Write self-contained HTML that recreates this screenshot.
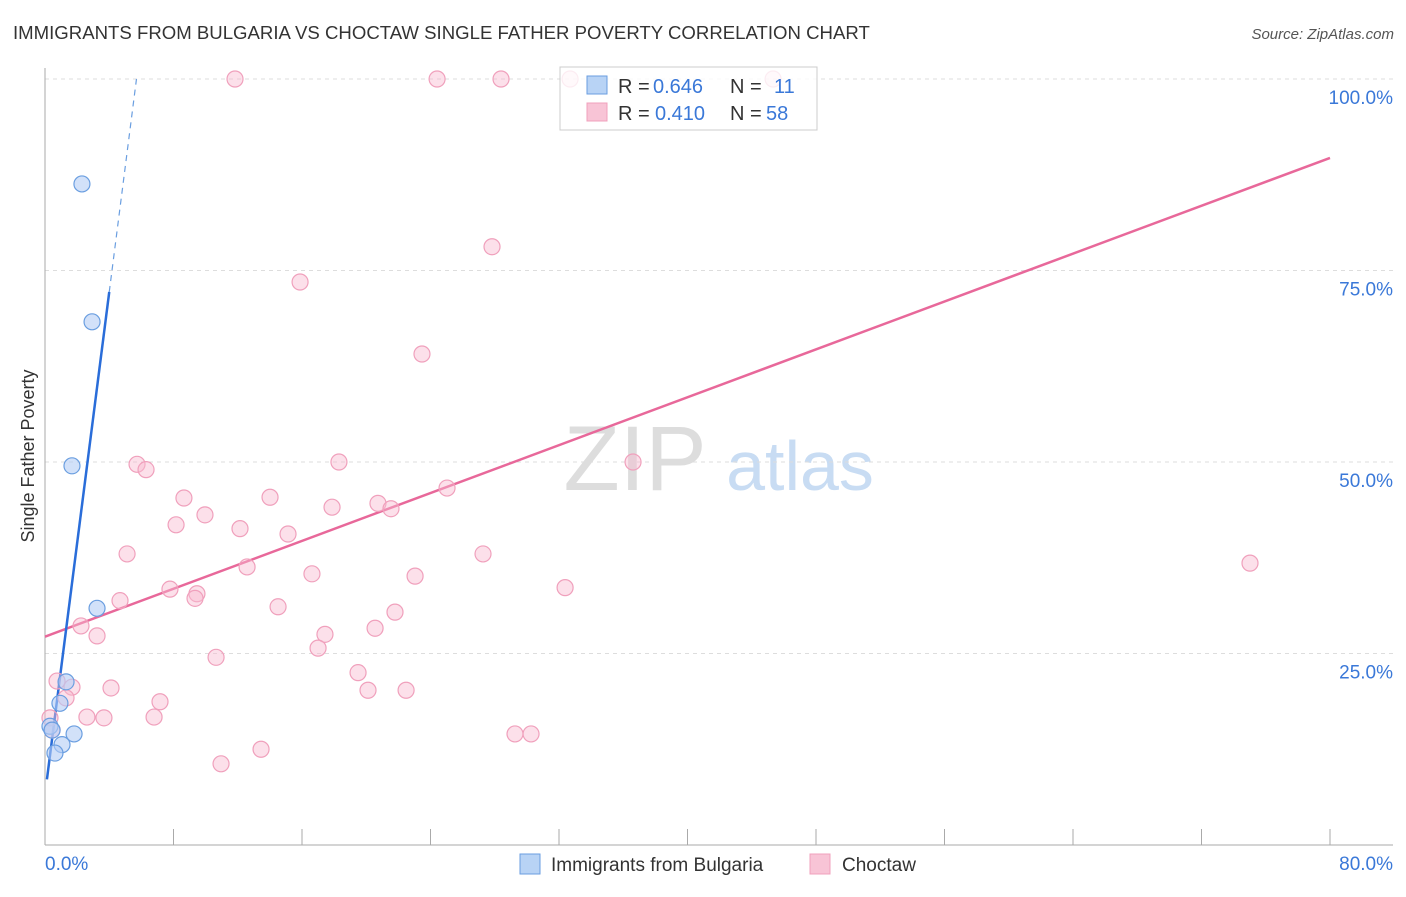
<!DOCTYPE html>
<html><head><meta charset="utf-8"><style>
body{margin:0;background:#fff;font-family:"Liberation Sans",sans-serif;}
svg text{font-family:"Liberation Sans",sans-serif;}
</style></head><body>
<svg id="chart" width="1406" height="892" xmlns="http://www.w3.org/2000/svg">
<text x="13" y="39" font-size="18.6" fill="#333">IMMIGRANTS FROM BULGARIA VS CHOCTAW SINGLE FATHER POVERTY CORRELATION CHART</text>
<text x="1394" y="39" font-size="15" fill="#555" text-anchor="end" font-style="italic">Source: ZipAtlas.com</text>
<text transform="translate(34,456) rotate(-90)" font-size="18" fill="#333" text-anchor="middle">Single Father Poverty</text>
<g>
<text x="635" y="490" font-size="92" fill="#ddd" text-anchor="middle" font-family="Liberation Serif,serif">ZIP</text>
<text x="800" y="490" font-size="70" fill="#c8dcf3" text-anchor="middle">atlas</text></g>
<g id="grid"></g><g id="axes"></g><g id="lines"></g><g id="points"></g>
<g>
<rect x="560" y="67" width="257" height="63" fill="#fff" fill-opacity="0.8" stroke="#ccc"/>
<rect x="587" y="76" width="20" height="18" fill="#b8d3f5" stroke="#6a9ee0"/>
<text x="618" y="93" font-size="20" fill="#333">R =</text>
<text x="653" y="93" font-size="20" fill="#3a78d8">0.646</text>
<text x="730" y="93" font-size="20" fill="#333">N =</text>
<text x="774" y="93" font-size="20" fill="#3a78d8">11</text>
<rect x="587" y="103" width="20" height="18" fill="#f8c4d6" stroke="#f0a0bc"/>
<text x="618" y="120" font-size="20" fill="#333">R =</text>
<text x="655" y="120" font-size="20" fill="#3a78d8">0.410</text>
<text x="730" y="120" font-size="20" fill="#333">N =</text>
<text x="766" y="120" font-size="20" fill="#3a78d8">58</text>
</g>
<g>
<rect x="520" y="854" width="20" height="20" fill="#b8d3f5" stroke="#6a9ee0"/>
<text x="551" y="871" font-size="19" fill="#333">Immigrants from Bulgaria</text>
<rect x="810" y="854" width="20" height="20" fill="#f8c4d6" stroke="#f0a0bc"/>
<text x="842" y="871" font-size="19" fill="#333">Choctaw</text>
</g>
</svg>
<script>
const yTicks=[25,50,75,100];
const yTickLabels=["25.0%","50.0%","75.0%","100.0%"];
const xTicks=[0,8,16,24,32,40,48,56,64,72,80];
const blueX=[2.30,2.93,1.68,3.24,1.31,0.93,0.31,0.44,1.81,1.06,0.62];
const blueY=[86.3,68.3,49.5,30.9,21.3,18.5,15.5,15.0,14.5,13.1,12.0];
const pinkX=[11.83,24.41,28.39,32.69,45.33,27.83,15.88,23.47,5.73,6.29,18.30,36.61,8.65,14.01,25.03,9.96,8.16,20.73,17.87,21.54,12.14,15.13,5.11,27.27,12.58,16.62,23.04,7.78,9.46,9.34,4.67,32.38,14.51,21.79,2.24,20.55,17.43,3.24,17.00,10.65,19.49,0.75,1.68,4.11,20.11,22.48,1.31,7.16,2.61,3.67,6.79,0.31,0.44,29.26,30.26,13.45,10.96,75.02];
const pinkY=[100,100,100,100,100,78.1,73.5,64.1,49.7,49.0,50.0,50.0,45.3,45.4,46.6,43.1,41.8,44.6,44.1,43.9,41.3,40.6,38.0,38.0,36.3,35.4,35.1,33.4,32.8,32.2,31.9,33.6,31.1,30.4,28.6,28.3,27.5,27.3,25.7,24.5,22.5,21.4,20.6,20.5,20.2,20.2,19.2,18.7,16.7,16.6,16.7,16.6,15.0,14.5,14.5,12.5,10.6,36.8];
const pinkTrend=[27.2,89.7];
const blueTrend=[6.6,16.4];
const NS="http://www.w3.org/2000/svg";
const sx=v=>45+v/80*1285, sy=v=>845-v/100*766;
function mk(tag,at,parent){const e=document.createElementNS(NS,tag);for(const k in at)e.setAttribute(k,at[k]);document.getElementById(parent).appendChild(e);return e;}
yTicks.forEach((t,i)=>{
 const g=mk('line',{x1:45,x2:1393,y1:sy(t),y2:sy(t),stroke:'#ddd','stroke-dasharray':'4,4'},'grid');
 
 
 const l=mk('text',{x:1393,y:sy(t)+25,'font-size':19,fill:'#3a78d8','text-anchor':'end'},'grid');
 l.textContent=yTickLabels[i];
 
 
});
let ax=mk('line',{x1:45,x2:1393,y1:845,y2:845,stroke:'#aaa'},'axes');


let ay=mk('line',{x1:45,x2:45,y1:68,y2:845,stroke:'#aaa'},'axes');


xTicks.forEach(t=>{const k=mk('line',{x1:sx(t),x2:sx(t),y1:829,y2:845,stroke:'#aaa'},'axes');
 
 });
let xl=mk('text',{x:45,y:870,'font-size':19,fill:'#3a78d8'},'axes');xl.textContent='0.0%';


let xr=mk('text',{x:1393,y:870,'font-size':19,fill:'#3a78d8','text-anchor':'end'},'axes');xr.textContent='80.0%';


pinkX.forEach((x,i)=>{const c=mk('circle',{cx:sx(x),cy:sy(pinkY[i]),r:8,fill:'rgba(248,187,208,0.45)',stroke:'#f0a0bc','stroke-width':1.2},'points');
 
 });
blueX.forEach((x,i)=>{const c=mk('circle',{cx:sx(x),cy:sy(blueY[i]),r:8,fill:'rgba(180,205,245,0.6)',stroke:'#6a9ee0','stroke-width':1.2},'points');
 
 });
let pl=mk('line',{x1:sx(0),y1:sy(pinkTrend[0]),x2:sx(80),y2:sy(pinkTrend[1]),stroke:'#e8689a','stroke-width':2.5},'lines');


const bx0=0.12,bx1=4.0,bx2=(100-blueTrend[0])/blueTrend[1];
let bl=mk('line',{x1:sx(bx0),y1:sy(blueTrend[0]+blueTrend[1]*bx0),x2:sx(bx1),y2:sy(blueTrend[0]+blueTrend[1]*bx1),stroke:'#2a6dd9','stroke-width':2.5},'lines');


let bd=mk('line',{x1:sx(bx1),y1:sy(blueTrend[0]+blueTrend[1]*bx1),x2:sx(bx2),y2:sy(100),stroke:'#6a9ee0','stroke-width':1.2,'stroke-dasharray':'6,5'},'lines');


</script>
</body></html>
